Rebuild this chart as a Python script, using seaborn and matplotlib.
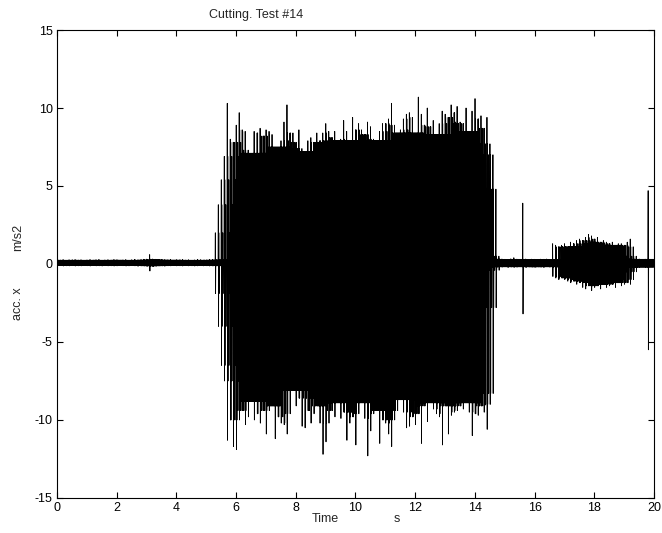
"""
Cutting test #14 - acceleration x over time, redrawn with seaborn
"""

import numpy as np
import pandas as pd
import matplotlib
matplotlib.use("Agg")
import matplotlib.pyplot as plt
import seaborn as sns

title = "Cutting. Test #14"

# peak values, one (max, min) pair per 0.1 s segment
seg_width = 0.1  # s

acc_hi = [
    0.27, 0.25, 0.28, 0.24, 0.27, 0.26, 0.28, 0.25, 0.27, 0.24,   # 0 s
    0.26, 0.28, 0.25, 0.27, 0.29, 0.24, 0.26, 0.27, 0.25, 0.28,   # 1 s
    0.27, 0.25, 0.26, 0.28, 0.24, 0.27, 0.29, 0.26, 0.27, 0.30,   # 2 s
    0.31, 0.60, 0.32, 0.30, 0.28, 0.29, 0.27, 0.26, 0.28, 0.25,   # 3 s
    0.27, 0.26, 0.28, 0.25, 0.27, 0.24, 0.26, 0.28, 0.27, 0.25,   # 4 s
    0.26, 0.28, 0.27, 2.0, 3.8, 5.4, 6.9, 10.3, 8.0, 7.8,         # 5 s
    8.9, 9.7, 8.6, 8.5, 7.3, 7.1, 8.5, 8.4, 8.7, 8.2,             # 6 s
    8.6, 8.5, 8.3, 7.5, 7.5, 7.9, 9.1, 10.2, 8.4, 8.4,            # 7 s
    7.8, 8.6, 7.4, 7.2, 7.9, 8.1, 7.8, 8.4, 7.9, 8.4,             # 8 s
    9.0, 8.5, 8.1, 8.5, 7.9, 8.0, 9.2, 8.5, 7.9, 9.4,             # 9 s
    8.6, 9.0, 8.6, 8.3, 9.1, 8.8, 8.0, 7.9, 8.5, 9.0,             # 10 s
    9.0, 9.3, 10.3, 8.9, 8.4, 8.6, 9.3, 9.6, 9.7, 9.4,            # 11 s
    8.4, 10.7, 9.6, 8.9, 10.0, 8.8, 9.2, 8.3, 9.0, 9.8,           # 12 s
    9.6, 9.4, 10.2, 9.7, 10.1, 9.1, 9.0, 10.0, 8.5, 9.8,          # 13 s
    10.6, 9.3, 9.5, 8.7, 9.4, 7.7, 7.0, 4.8, 0.5, 0.32,           # 14 s
    0.30, 0.29, 0.33, 0.40, 0.31, 0.30, 3.9, 0.32, 0.29, 0.31,    # 15 s
    0.30, 0.28, 0.31, 0.30, 0.32, 0.29, 1.3, 1.2, 1.1, 1.2,       # 16 s
    1.3, 1.1, 1.4, 1.3, 1.5, 1.6, 1.5, 1.7, 1.9, 1.8,             # 17 s
    1.6, 1.7, 1.4, 1.5, 1.4, 1.3, 1.4, 1.2, 1.3, 1.3,             # 18 s
    1.2, 1.4, 1.6, 1.1, 0.5, 0.32, 0.30, 0.31, 4.7, 0.30,         # 19 s
]

acc_lo = [
    -0.12, -0.10, -0.13, -0.11, -0.12, -0.10, -0.13, -0.11, -0.12, -0.10,
    -0.11, -0.13, -0.10, -0.12, -0.11, -0.13, -0.10, -0.12, -0.11, -0.13,
    -0.12, -0.10, -0.11, -0.13, -0.12, -0.10, -0.12, -0.14, -0.12, -0.13,
    -0.15, -0.45, -0.16, -0.14, -0.13, -0.12, -0.14, -0.11, -0.12, -0.10,
    -0.12, -0.11, -0.13, -0.10, -0.12, -0.11, -0.13, -0.12, -0.10, -0.12,
    -0.11, -0.13, -0.12, -1.9, -4.0, -6.5, -7.5, -11.3, -10.0, -11.7,
    -11.9, -10.0, -9.4, -10.3, -9.8, -8.8, -10.0, -9.6, -10.2, -9.4,
    -10.9, -9.4, -9.1, -11.2, -9.8, -10.2, -10.3, -10.9, -9.6, -8.1,
    -9.1, -8.6, -10.4, -10.5, -9.4, -10.2, -9.6, -9.1, -10.2, -12.2,
    -11.4, -10.2, -9.4, -9.8, -8.9, -9.9, -9.5, -11.3, -10.2, -9.8,
    -11.6, -9.6, -8.9, -9.9, -12.3, -10.7, -9.6, -9.4, -11.5, -10.0,
    -10.2, -10.9, -11.7, -10.0, -9.4, -8.7, -9.5, -10.5, -10.4, -9.8,
    -10.3, -9.6, -11.5, -9.1, -10.1, -8.9, -9.3, -9.6, -9.8, -11.6,
    -9.1, -10.9, -9.7, -9.5, -9.4, -9.1, -9.3, -8.9, -9.5, -11.0,
    -9.6, -9.7, -9.1, -9.5, -10.6, -9.0, -8.3, -2.8, -0.4, -0.20,
    -0.18, -0.22, -0.19, -0.21, -0.20, -0.18, -3.2, -0.22, -0.19, -0.20,
    -0.21, -0.19, -0.20, -0.22, -0.18, -0.20, -0.8, -0.9, -1.0, -0.9,
    -1.0, -1.1, -1.2, -1.1, -1.3, -1.2, -1.5, -1.6, -1.4, -1.7,
    -1.5, -1.4, -1.6, -1.3, -1.5, -1.4, -1.3, -1.5, -1.2, -1.4,
    -1.3, -1.2, -1.3, -1.0, -0.5, -0.22, -0.20, -0.21, -5.5, -0.20,
]

x_ticks = [0, 2, 4, 6, 8, 10, 12, 14, 16, 18, 20]
y_ticks = [-15, -10, -5, 0, 5, 10, 15]


def neighbour_core(vals, win, fn):
    """smallest swing among the neighbouring segments"""
    h = win // 2
    pad = np.pad(vals, h, mode="edge")
    return fn.reduce([pad[k:k + len(vals)] for k in range(win)])


def build_trace(hi, lo, width, windows=(3, 7, 5, 9, 11)):
    """
    one full swing to the read peaks in each segment, then a few swings
    to the smaller neighbour peaks so the body of the signal fills in
    """
    hi = np.asarray(hi, dtype=float)
    lo = np.asarray(lo, dtype=float)

    cols = [hi, lo]
    for w in windows:
        cols += [neighbour_core(hi, w, np.minimum),
                 neighbour_core(lo, w, np.maximum)]
    acc = np.column_stack(cols).ravel()

    k = len(cols)
    idx = np.arange(len(hi))
    offs = (np.arange(k) + 0.5) / k
    t = (idx[:, None] * width + offs[None, :] * width).ravel()
    return pd.DataFrame({"time": t, "acc": acc})


df = build_trace(acc_hi, acc_lo, seg_width)

sns.set_style("ticks")
plt.rcParams["font.family"] = ["Liberation Sans", "DejaVu Sans"]
plt.rcParams["axes.unicode_minus"] = False

fig = plt.figure(figsize=(6.62, 5.33), dpi=100)
ax = fig.add_axes([0.0861, 0.0657, 0.9018, 0.878])

sns.lineplot(data=df, x="time", y="acc", color="black", linewidth=0.6,
             estimator=None, sort=False, ax=ax)

ax.set_xlim(0, 20)
ax.set_ylim(-15, 15)
ax.set_xticks(x_ticks)
ax.set_yticks(y_ticks)
ax.tick_params(direction="in", top=True, right=True, length=4.5, width=0.8,
               labelsize=9, pad=3, colors="black")
for spine in ax.spines.values():
    spine.set_visible(True)
    spine.set_linewidth(0.8)
    spine.set_color("black")
ax.set_xlabel("")
ax.set_ylabel("")

# labels sit apart, like the original figure
fig.text(0.387, 0.972, title, ha="center", va="center", fontsize=9)
fig.text(0.491, 0.026, "Time", ha="center", va="center", fontsize=9)
fig.text(0.600, 0.026, "s", ha="center", va="center", fontsize=9)
fig.text(0.027, 0.430, "acc. x", ha="center", va="center", rotation=90, fontsize=9)
fig.text(0.027, 0.555, "m/s2", ha="center", va="center", rotation=90, fontsize=9)

fig.savefig("out.png", dpi=100)
